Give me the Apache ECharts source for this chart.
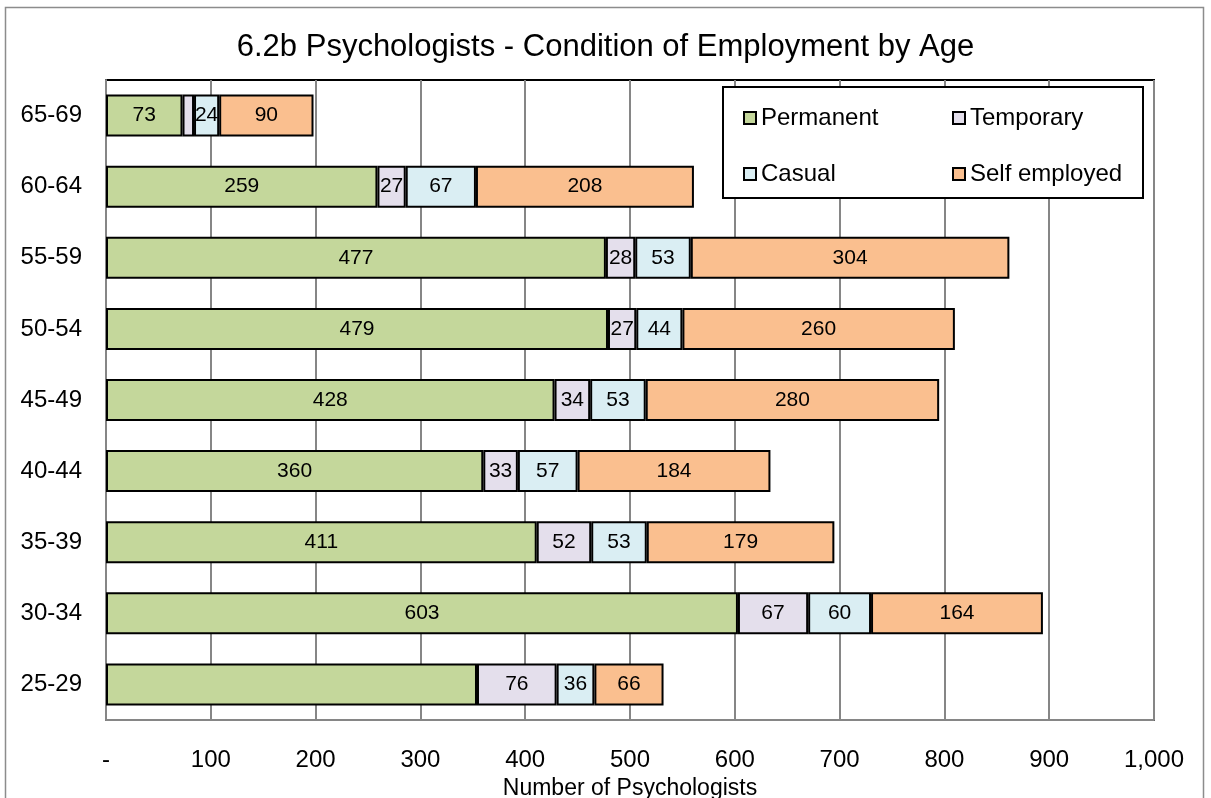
<!DOCTYPE html>
<html>
<head>
<meta charset="utf-8">
<script src="https://cdn.jsdelivr.net/npm/echarts@6/dist/echarts.min.js"></script>
<style>
html, body { margin: 0; padding: 0; background: #fff; }
#main { width: 1211px; height: 798px; }
</style>
</head>
<body>
<div id="main"></div>
<script>
var ageGroups = ['25-29', '30-34', '35-39', '40-44', '45-49', '50-54', '55-59', '60-64', '65-69'];
var permanent = [354, 603, 411, 360, 428, 479, 477, 259, 73];
var temporary = [76, 67, 52, 33, 34, 27, 28, 27, 11];
var casual = [36, 60, 53, 57, 53, 44, 53, 67, 24];
var selfEmployed = [66, 164, 179, 184, 280, 260, 304, 208, 90];
// labels that the original chart leaves out
var hiddenPermanent = ['25-29'];
var hiddenTemporary = ['65-69'];

var seriesNames = ['Permanent', 'Temporary', 'Casual', 'Self employed'];
var colors = ['#C4D79B', '#E4DFEC', '#DAEEF3', '#FABF8F'];

function buildData(values, hidden) {
    return values.map(function (v, i) {
        if (hidden && hidden.indexOf(ageGroups[i]) >= 0) {
            return { value: v, label: { show: false } };
        }
        return v;
    });
}

function makeSeries(name, values, color, hidden) {
    return {
        name: name,
        type: 'bar',
        stack: 'total',
        barWidth: 42,
        data: buildData(values, hidden),
        itemStyle: { color: color, borderColor: '#000', borderWidth: 2 },
        label: {
            show: true,
            position: 'inside',
            color: '#000',
            fontSize: 21,
            fontFamily: 'Liberation Sans, Arial, sans-serif'
        },
        emphasis: { disabled: true }
    };
}

var dom = document.getElementById('main');
var chart = echarts.init(dom);

var font = 'Liberation Sans, Arial, sans-serif';

option = {
    animation: false,
    textStyle: { fontFamily: font },
    title: {
        text: '6.2b Psychologists - Condition of Employment by Age',
        left: 'center',
        top: 27,
        textStyle: { fontSize: 31, fontWeight: 'normal', color: '#000', fontFamily: font }
    },
    graphic: [{
        type: 'rect',
        shape: { x: 5.5, y: 7.5, width: 1198, height: 800 },
        style: { fill: 'none', stroke: '#8c8c8c', lineWidth: 1.5 },
        z: 0
    }, {
        type: 'rect',
        shape: { x: 723, y: 87, width: 420, height: 111 },
        style: { fill: '#fff', stroke: '#000', lineWidth: 2 },
        z: 5
    }],
    legend: [{
        data: ['Permanent', 'Casual'],
        orient: 'vertical',
        left: 738,
        top: 101,
        itemGap: 32,
        itemWidth: 12,
        itemHeight: 12,
        icon: 'rect',
        z: 10,
        textStyle: { fontSize: 24, color: '#000', fontFamily: font }
    }, {
        data: ['Temporary', 'Self employed'],
        orient: 'vertical',
        left: 947,
        top: 101,
        itemGap: 32,
        itemWidth: 12,
        itemHeight: 12,
        icon: 'rect',
        z: 10,
        textStyle: { fontSize: 24, color: '#000', fontFamily: font }
    }],
    grid: {
        left: 106,
        right: 57,
        top: 80,
        bottom: 78,
        outerBoundsMode: 'none',
        show: true,
        borderColor: '#000',
        borderWidth: 2
    },
    xAxis: {
        type: 'value',
        min: 0,
        max: 1000,
        interval: 100,
        name: 'Number of Psychologists',
        nameLocation: 'middle',
        nameGap: 57,
        nameTextStyle: { fontSize: 23, color: '#000' },
        axisLine: { show: true, lineStyle: { color: '#868686', width: 2 } },
        axisTick: { show: false },
        splitLine: { show: true, lineStyle: { color: '#868686', width: 2 } },
        axisLabel: {
            fontSize: 24,
            color: '#000',
            margin: 28,
            formatter: function (v) {
                return v === 0 ? '-' : v.toLocaleString('en-US');
            }
        }
    },
    yAxis: {
        type: 'category',
        data: ageGroups,
        axisLine: { show: true, lineStyle: { color: '#868686', width: 2 } },
        axisTick: { show: false },
        axisLabel: { fontSize: 24, color: '#000', margin: 24 }
    },
    series: [
        makeSeries(seriesNames[0], permanent, colors[0], hiddenPermanent),
        makeSeries(seriesNames[1], temporary, colors[1], hiddenTemporary),
        makeSeries(seriesNames[2], casual, colors[2]),
        makeSeries(seriesNames[3], selfEmployed, colors[3])
    ]
};

if (option && typeof option === 'object') {
    chart.setOption(option, true);
}

window.addEventListener('resize', function () {
    chart.resize();
});
</script>
</body>
</html>
